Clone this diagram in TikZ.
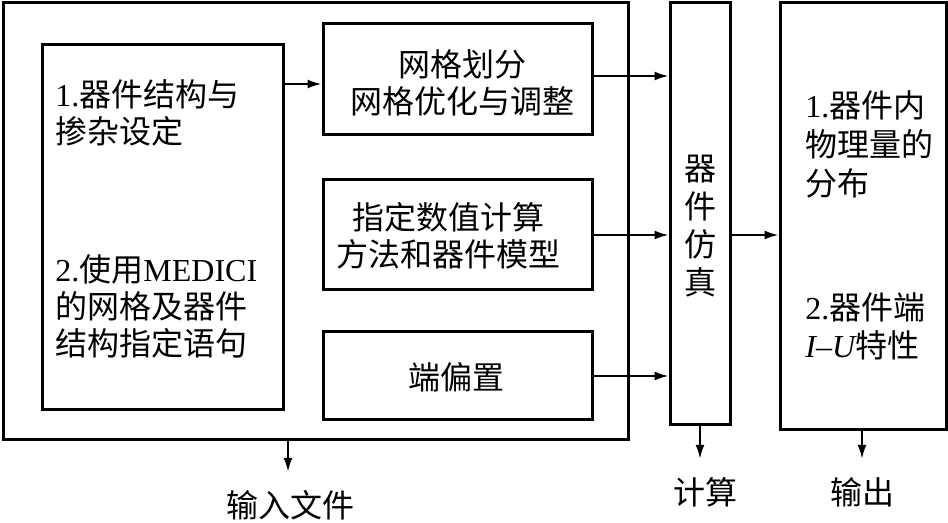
\documentclass[tikz,border=0pt]{standalone}
\usepackage{fontspec}
\setmainfont{Liberation Serif}
\newfontfamily\cjk{Noto Sans CJK SC}
\usetikzlibrary{arrows.meta,positioning,fit}

\tikzset{
	blk/.style={draw, line width=1.5pt, inner sep=0pt},
	lbl/.style={inner sep=0pt, align=left, font=\fontsize{16}{18.5}\selectfont\cjk},
	arr/.style={-{Latex[length=7pt,width=4.5pt]}, line width=1pt},
}

\begin{document}
\begin{tikzpicture}[x=0.5pt, y=-0.5pt]
	\useasboundingbox (0,0) rectangle (948,523);
	% boxes
	\node[blk, fit={(3,3) (628,440)}] (outer) {};
	\node[blk, fit={(42,45) (283,410)}] (setup) {};
	\node[blk, fit={(323,24) (592,135)}] (mesh) {};
	\node[blk, fit={(323,180) (592,290)}] (model) {};
	\node[blk, fit={(323,332) (592,420)}] (bias) {};
	\node[blk, fit={(670,3) (730,425)}] (sim) {};
	\node[blk, fit={(780,3) (946,430)}] (result) {};
	% texts
	\node[lbl, anchor=west] (setupA) at (55,113) {{\rmfamily 1.}器件结构与\\掺杂设定};
	\node[lbl, anchor=west] (setupB) at (55,306) {{\rmfamily 2.}使用{\rmfamily MEDICI}\\的网格及器件\\结构指定语句};
	\node[lbl, align=center] (meshtxt) at (462,83) {网格划分\\网格优化与调整};
	\node[lbl, align=center] (modeltxt) at (448,236) {指定数值计算\\方法和器件模型};
	\node[lbl, align=center] (biastxt) at (456,377) {端偏置};
	\node[lbl, align=center, font=\fontsize{16}{19}\selectfont\cjk] (simtxt) at (700,226) {器\\件\\仿\\真};
	\node[lbl, anchor=west, font=\fontsize{16}{19.5}\selectfont\cjk] (resA) at (805,144) {{\rmfamily 1.}器件内\\物理量的\\分布};
	\node[lbl, anchor=west, font=\fontsize{16}{19}\selectfont\cjk] (resB) at (805,326) {{\rmfamily 2.}器件端\\{\rmfamily\itshape I}{\rmfamily --}{\rmfamily\itshape U}特性};
	\node[lbl] (infile) at (290,505) {输入文件};
	\node[lbl] (calc) at (705,492) {计算};
	\node[lbl] (output) at (862,492) {输出};
	% connectors
	\draw[arr] (setup.east |- 0,84) -- (mesh.west |- 0,84);
	\draw[arr] (mesh.east |- 0,76) -- (sim.west |- 0,76);
	\draw[arr] (model.east) -- (model.east -| sim.west);
	\draw[arr] (bias.east) -- (bias.east -| sim.west);
	\draw[arr] (sim.east |- model.east) -- (model.east -| result.west);
	\draw[arr, shorten >=9pt] (outer.south -| 288,0) -- (infile.north -| 288,0);
	\draw[arr, shorten >=9pt] (sim.south) -- (sim.south |- calc.north);
	\draw[arr, shorten >=9pt] (result.south -| output.north) -- (output.north);
\end{tikzpicture}
\end{document}
